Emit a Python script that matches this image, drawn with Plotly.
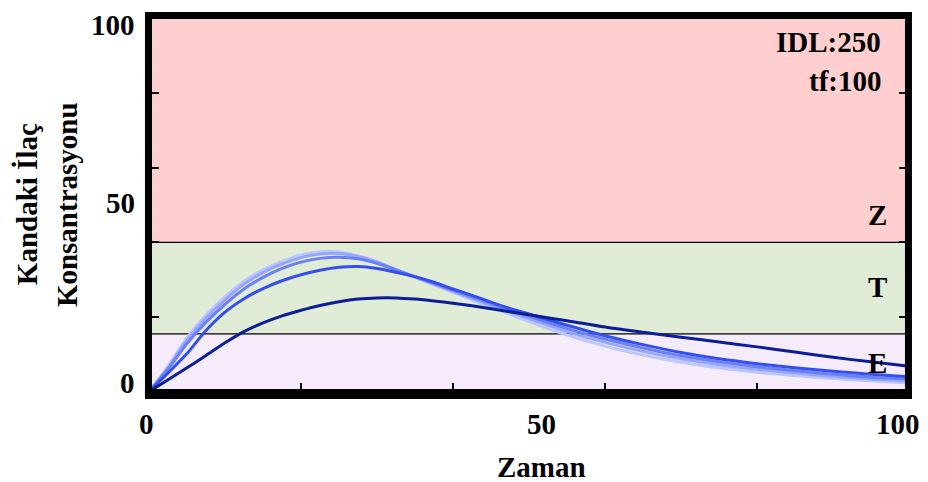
import plotly.graph_objects as go

# Sampling times (Zaman)
time = [0, 2.5, 5, 7.5, 10, 12.5, 15, 17.5, 20, 22.5, 25, 27.5, 30, 32.5, 35,
        37.5, 40, 42.5, 45, 47.5, 50, 55, 60, 65, 70, 75, 80, 85, 90, 95, 100]

# Blood drug concentration curves, lightest to darkest
conc_a = [0, 6.8, 14.5, 20.5, 25.4, 29.6, 32.6, 34.9, 36.6, 37.5, 37.4, 36.4, 34.8, 32.6, 30.6,
          28.6, 26.6, 24.6, 22.6, 20.7, 18.8, 15.2, 12.2, 9.8, 7.9, 6.4, 5.2, 4.3, 3.5, 2.9, 2.3]
conc_b = [0, 6.4, 13.8, 19.7, 24.6, 28.8, 31.9, 34.2, 35.9, 36.9, 37.0, 36.2, 34.7, 32.7, 30.7,
          28.8, 26.9, 25.0, 23.1, 21.3, 19.6, 16.1, 13.2, 10.8, 8.8, 7.2, 6.0, 5.0, 4.1, 3.4, 2.9]
conc_c = [0, 6.0, 12.9, 18.6, 23.4, 27.5, 30.6, 33.0, 34.7, 35.7, 36.0, 35.6, 34.4, 32.6, 30.8,
          29.0, 27.2, 25.4, 23.6, 21.8, 20.2, 16.9, 14.1, 11.7, 9.6, 8.0, 6.7, 5.6, 4.7, 3.9, 3.4]
conc_d = [0, 5.0, 10.2, 16.4, 21.3, 24.9, 27.6, 29.7, 31.3, 32.5, 33.3, 33.5, 33.0, 32.0, 30.8,
          29.3, 27.5, 25.8, 24.0, 22.3, 20.8, 17.8, 15.0, 12.6, 10.5, 8.8, 7.5, 6.4, 5.5, 4.7, 4.0]
conc_e = [0, 3.2, 6.4, 9.7, 13.1, 16.1, 18.4, 20.3, 21.8, 23.1, 24.1, 24.8, 25.1, 25.1, 24.8,
          24.3, 23.7, 23.0, 22.2, 21.4, 20.6, 19.0, 17.3, 15.9, 14.6, 13.3, 12.0, 10.6, 9.2, 8.0, 6.8]

series = [conc_a, conc_b, conc_c, conc_d, conc_e]
series_colors = ["#BCC6FF", "#97A6FC", "#6A80F6", "#3350EE", "#0A1E96"]

# Concentration zones: E (ineffective), T (therapeutic), Z (toxic)
zone_edges = [0, 15.5, 40, 100]
zone_labels = ["E", "T", "Z"]
zone_colors = ["#F6EBFB", "#E1ECD7", "#FFCFCF"]

# Tick labels
x_tick_vals = [0, 50, 100]
y_tick_vals = [0, 50, 100]
minor_ticks = [20, 40, 60, 80]

SERIF = "Liberation Serif, Times New Roman, serif"
FS = 29

fig = go.Figure()

for ys, col in zip(series, series_colors):
    fig.add_trace(go.Scatter(
        x=time, y=ys, mode="lines",
        line=dict(color=col, width=3, shape="spline", smoothing=0.8),
        showlegend=False, hoverinfo="skip",
    ))

shapes = []
# zone backgrounds
for lo, hi, col in zip(zone_edges[:-1], zone_edges[1:], zone_colors):
    shapes.append(dict(type="rect", xref="paper", yref="y", x0=0, x1=1,
                       y0=(lo if lo > 0 else -1), y1=(hi if hi < 100 else 101),
                       fillcolor=col, line=dict(width=0), layer="below"))
# zone boundaries
for edge in zone_edges[1:-1]:
    shapes.append(dict(type="line", xref="paper", yref="y", x0=0, x1=1, y0=edge, y1=edge,
                       line=dict(color="black", width=1.2), layer="below"))
# heavy frame
shapes.append(dict(type="rect", xref="paper", yref="paper",
                   x0=-0.0007, x1=0.9993, y0=-0.002, y1=1.0013,
                   line=dict(color="black", width=7), layer="above"))
shapes.append(dict(type="line", xref="paper", yref="paper",
                   x0=-0.0053, x1=1.0039, y0=-0.0027, y1=-0.0027,
                   line=dict(color="black", width=10), layer="above"))

annotations = []
txt_font = dict(family=SERIF, size=FS, color="black", weight="bold")

# x tick labels
x_label_shift = [-3, 12, -11]
for v, dx in zip(x_tick_vals, x_label_shift):
    annotations.append(dict(x=v, y=0, xref="x", yref="paper", text=str(v), showarrow=False,
                            xanchor="center", yanchor="middle", xshift=dx, yshift=-31,
                            font=txt_font))
# y tick labels
y_label_shift = [9, 2, -7]
for v, dy in zip(y_tick_vals, y_label_shift):
    annotations.append(dict(x=0, y=v, xref="paper", yref="y", text=str(v), showarrow=False,
                            xanchor="right", yanchor="middle", xshift=-12, yshift=dy,
                            font=txt_font))

# axis titles
annotations.append(dict(x=50, y=0, xref="x", yref="paper", text="Zaman", showarrow=False,
                        xanchor="center", yanchor="middle", xshift=12, yshift=-74,
                        font=txt_font))
annotations.append(dict(x=-0.1605, y=0.501, xref="paper", yref="paper", text="Kandaki İlaç",
                        showarrow=False, textangle=-90, xanchor="center", yanchor="middle",
                        font=txt_font))
annotations.append(dict(x=-0.1079, y=0.501, xref="paper", yref="paper", text="Konsantrasyonu",
                        showarrow=False, textangle=-90, xanchor="center", yanchor="middle",
                        font=txt_font))

# parameter box
annotations.append(dict(x=0.9658, y=0.931, xref="paper", yref="paper", text="IDL:250",
                        showarrow=False, xanchor="right", yanchor="middle", font=txt_font))
annotations.append(dict(x=0.9658, y=0.8276, xref="paper", yref="paper", text="tf:100",
                        showarrow=False, xanchor="right", yanchor="middle", font=txt_font))

# zone letters
zone_label_y = [0.0796, 0.281, 0.472]
for lab, yy in zip(zone_labels, zone_label_y):
    annotations.append(dict(x=0.958, y=yy, xref="paper", yref="paper", text=lab,
                            showarrow=False, xanchor="center", yanchor="middle", font=txt_font))

fig.update_layout(
    width=928, height=482,
    margin=dict(l=149, r=19, t=16, b=89),
    paper_bgcolor="white", plot_bgcolor="white",
    shapes=shapes, annotations=annotations,
    xaxis=dict(range=[0, 100], showgrid=False, zeroline=False, showline=False,
               showticklabels=False, tickvals=x_tick_vals, ticks="",
               minor=dict(tickvals=minor_ticks, ticks="inside", ticklen=10,
                          tickwidth=1.5, tickcolor="black", showgrid=False)),
    yaxis=dict(range=[-0.35, 100.6], showgrid=False, zeroline=False,
               showline=True, linecolor="rgba(0,0,0,0)", linewidth=1,
               showticklabels=False, tickvals=y_tick_vals, ticks="", mirror="ticks",
               minor=dict(tickvals=minor_ticks, ticks="inside", ticklen=10,
                          tickwidth=1.5, tickcolor="black", showgrid=False)),
)

fig.write_html("out.html")
